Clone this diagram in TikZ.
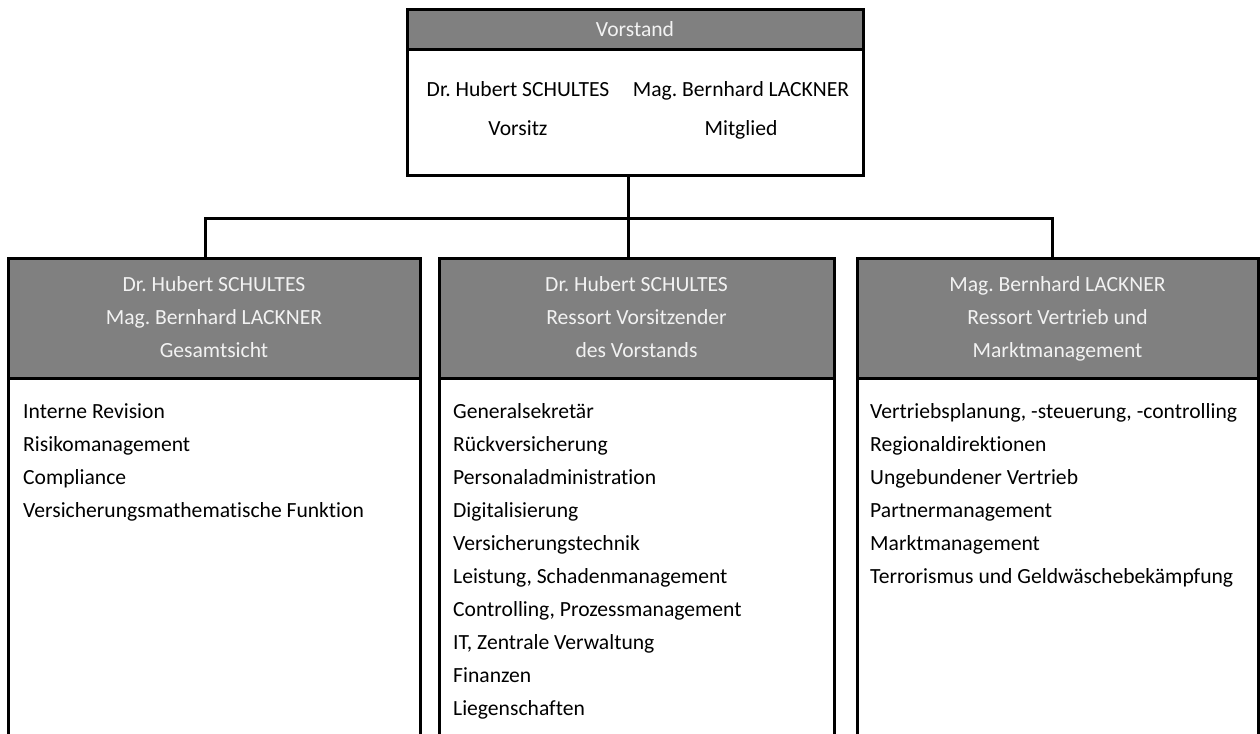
\documentclass[tikz,border=0pt]{standalone}
\usepackage{fontspec}
\setmainfont{Carlito}[Ligatures=NoCommon]
\usetikzlibrary{positioning}
\frenchspacing

\begin{document}
\begin{tikzpicture}[
      x=1pt, y=-1pt,
      box/.style={
         rectangle,
         draw=black,
         line width=3pt,
         outer sep=0pt,
         inner sep=0pt,
         anchor=north west
      },
      headbox/.style={
         box,
         fill=black!50,
         text=white!95!black,
         align=center,
         font=\fontsize{21.6}{33}\selectfont
      },
      bodybox/.style={box, fill=white},
      listtext/.style={
         anchor=north west,
         inner sep=0pt,
         align=left,
         font=\fontsize{21.6}{33}\selectfont
      },
      nametext/.style={
         inner sep=0pt,
         align=center,
         font=\fontsize{21.6}{39}\selectfont
      },
      conn/.style={line width=3pt}
    ]
    \useasboundingbox (0,0) rectangle (1260,733);
    \clip (0,0) rectangle (1260,733);

    % Vorstand
    \node (vbody) [bodybox, minimum width=456pt, minimum height=125pt] at (407,50) {};
    \node (vhead) [headbox, minimum width=456pt, minimum height=40pt] at (407,10) {\strut Vorstand};
    \node (vschultes) [nametext] at (518,108) {\strut Dr. Hubert SCHULTES\\Vorsitz\strut};
    \node (vlackner) [nametext] at (741,108) {\strut Mag. Bernhard LACKNER\\Mitglied\strut};

    % Ressorts
    \node (lbody) [bodybox, minimum width=412pt, minimum height=420pt] at (8,378) {};
    \node (lhead) [headbox, minimum width=412pt, minimum height=120pt] at (8,258)
       {\strut Dr. Hubert SCHULTES\\Mag. Bernhard LACKNER\\Gesamtsicht\strut};
    \node (mbody) [bodybox, minimum width=395pt, minimum height=420pt] at (439,378) {};
    \node (mhead) [headbox, minimum width=395pt, minimum height=120pt] at (439,258)
       {\strut Dr. Hubert SCHULTES\\Ressort Vorsitzender\\des Vorstands\strut};
    \node (rbody) [bodybox, minimum width=401pt, minimum height=420pt] at (857,378) {};
    \node (rhead) [headbox, minimum width=401pt, minimum height=120pt] at (857,258)
       {\strut Mag. Bernhard LACKNER\\Ressort Vertrieb und\\Marktmanagement\strut};

    \node (llist) [listtext] at ([shift={(15,17.4)}]lbody.north west)
       {\strut Interne Revision\\Risikomanagement\\Compliance\\Versicherungsmathematische Funktion};
    \node (mlist) [listtext] at ([shift={(14,17.4)}]mbody.north west)
       {\strut Generalsekretär\\Rückversicherung\\Personaladministration\\Digitalisierung\\Versicherungstechnik\\
        Leistung, Schadenmanagement\\Controlling, Prozessmanagement\\IT, Zentrale Verwaltung\\Finanzen\\Liegenschaften};
    \node (rlist) [listtext] at ([shift={(13,17.4)}]rbody.north west)
       {\strut Vertriebsplanung, -steuerung, -controlling\\Regionaldirektionen\\Ungebundener Vertrieb\\
        Partnermanagement\\Marktmanagement\\Terrorismus und Geldwäschebekämpfung};

    % Verbindungen
    \coordinate (hub) at (628,218);
    \coordinate (ljoin) at (205,218);
    \coordinate (rjoin) at (1052,218);
    \draw[conn] (vbody.south -| hub) -- (hub);
    \draw[conn] (ljoin |- lhead.north) -- (ljoin) -- (rjoin) -- (rjoin |- rhead.north);
    \draw[conn] (hub) -- (hub |- mhead.north);
\end{tikzpicture}
\end{document}
